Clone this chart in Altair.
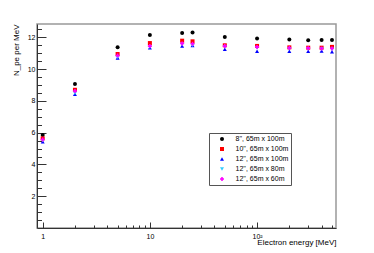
import altair as alt
import pandas as pd

energies = [1, 2, 5, 10, 20, 25, 50, 100, 200, 300, 400, 500]
series_names = ["8'', 65m x 100m", "10'', 65m x 100m", "12'', 65m x 100m",
                "12'', 65m x 80m", "12'', 65m x 60m"]
v8_100 = [5.85, 9.07, 11.37, 12.15, 12.27, 12.31, 12.02, 11.92, 11.87, 11.81, 11.83, 11.83]
v10_100 = [5.64, 8.70, 10.95, 11.64, 11.79, 11.75, 11.50, 11.46, 11.37, 11.35, 11.35, 11.40]
v12_100 = [5.43, 8.42, 10.70, 11.35, 11.46, 11.48, 11.25, 11.12, 11.12, 11.12, 11.14, 11.10]
v12_80 = [5.50, 8.48, 10.75, 11.38, 11.55, 11.50, 11.40, 11.35, 11.28, 11.28, 11.27, 11.25]
v12_60 = [5.57, 8.62, 10.85, 11.45, 11.62, 11.60, 11.45, 11.40, 11.33, 11.32, 11.30, 11.30]
colors = ["#000000", "#ff0000", "#0000ff", "#33ccff", "#ff00ff"]
shapes = ["circle", "square", "triangle-up", "triangle-down", "cross"]

x_major = [1, 10, 100]
x_minor = [2, 3, 4, 5, 6, 7, 8, 9, 20, 30, 40, 50, 60, 70, 80, 90, 200, 300, 400, 500]
y_major = [2, 4, 6, 8, 10, 12]
y_minor = [0.5 * i for i in range(1, 26)]

rows = []
for name, vals in zip(series_names, [v8_100, v10_100, v12_100, v12_80, v12_60]):
    for e, v in zip(energies, vals):
        rows.append({"energy": e, "npe": v, "series": name})
df = pd.DataFrame(rows)
df["idx"] = range(len(df))

FONT = "Liberation Sans"
xdom = [0.885, 545]
ydom = [0, 12.84]

def xs():
    return alt.Scale(type="log", domain=xdom, nice=False)

def ys():
    return alt.Scale(domain=ydom, nice=False, zero=False)

legend = alt.Legend(
    title=None, orient="none", legendX=172, legendY=109,
    fillColor="white", strokeColor="#555555",
    padding=2.5, symbolOffset=7, labelOffset=10, rowPadding=2,
    symbolSize=16, labelFontSize=7, labelFont=FONT, labelColor="#000000",
)

points = alt.Chart(df).mark_point(filled=True, opacity=1, size=16).encode(
    x=alt.X("energy:Q", scale=xs(), axis=alt.Axis(
        orient="bottom", values=x_major, tickSize=6, offset=-6, domain=False,
        grid=False, title=None, tickColor="#333333", labelFontSize=7, labelFont=FONT,
        labelColor="#000000", labelPadding=4,
        labelExpr="datum.value == 100 ? '10²' : format(datum.value, 'd')")),
    y=alt.Y("npe:Q", scale=ys(), axis=alt.Axis(
        orient="left", values=y_major, tickSize=9, offset=-9, domain=False,
        grid=False, title=None, tickColor="#333333", labelFontSize=7, labelFont=FONT,
        labelColor="#000000", labelPadding=2, format="d")),
    color=alt.Color("series:N", scale=alt.Scale(domain=series_names, range=colors), legend=legend),
    shape=alt.Shape("series:N", scale=alt.Scale(domain=series_names, range=shapes), legend=legend),
    order=alt.Order("idx:Q"),
)

minor = alt.Chart(df).mark_point(opacity=0).encode(
    x=alt.X("energy:Q", scale=xs(), axis=alt.Axis(
        orient="bottom", values=x_minor, tickSize=3, offset=-3, domain=False,
        grid=False, title=None, labels=False, tickColor="#333333")),
    y=alt.Y("npe:Q", scale=ys(), axis=alt.Axis(
        orient="left", values=y_minor, tickSize=4.5, offset=-4.5, domain=False,
        grid=False, title=None, labels=False, tickColor="#333333")),
)

frame = alt.Chart(df).mark_point(opacity=0).encode(
    x=alt.X("energy:Q", scale=xs(), axis=alt.Axis(
        orient="bottom", ticks=False, labels=False, grid=False, domain=True,
        domainColor="#333333", domainWidth=1,
        title="Electron energy [MeV]", titleFont=FONT, titleFontSize=8,
        titleFontWeight="normal", titleColor="#000000", titleAnchor="end",
        titleAlign="right", titleBaseline="middle", titleX=299, titleY=14)),
    y=alt.Y("npe:Q", scale=ys(), axis=alt.Axis(
        orient="left", ticks=False, labels=False, grid=False, domain=True,
        domainColor="#333333", domainWidth=1,
        title="N_pe per MeV", titleFont=FONT, titleFontSize=8,
        titleFontWeight="normal", titleColor="#000000", titleAnchor="end",
        titleAlign="right", titleBaseline="middle", titleAngle=270,
        titleX=-21, titleY=0)),
)

chart = alt.layer(minor, frame, points).resolve_scale(
    x="independent", y="independent"
).properties(
    width=299, height=204,
    autosize=alt.AutoSizeParams(type="none"),
    padding={"left": 29, "top": 16, "right": 22, "bottom": 20},
).configure_view(stroke="#999999", strokeWidth=1.5)

chart.save("out.html", embed_options={"renderer": "svg", "actions": False})
